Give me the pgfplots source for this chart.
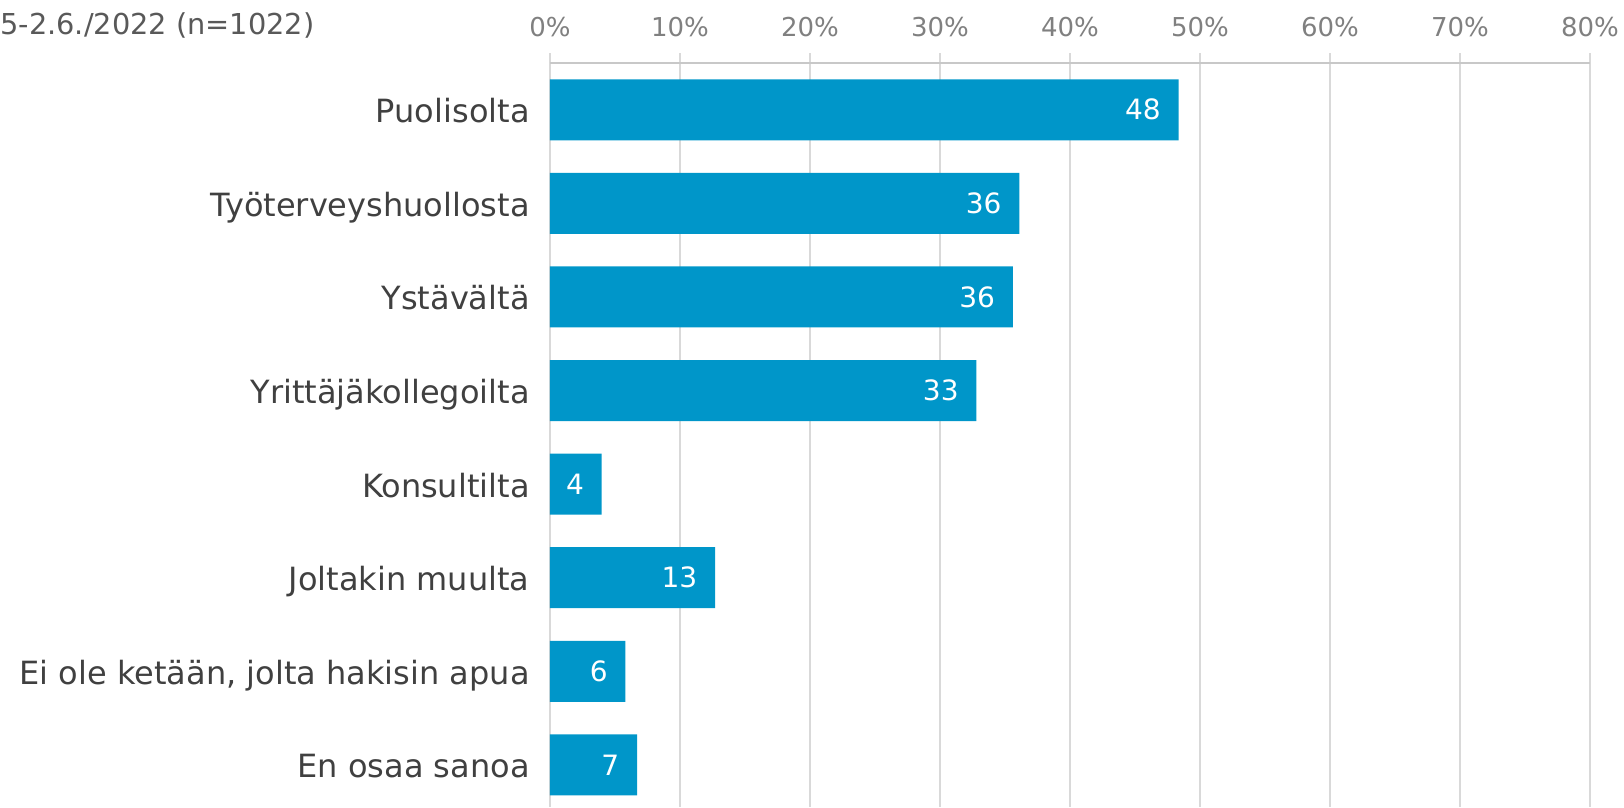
\documentclass[border=0pt]{standalone}
\usepackage{fontspec}
\setmainfont{DejaVu Sans}
\usepackage{pgfplots}
\pgfplotsset{compat=1.18}
\usepackage{pgfplotstable}
\definecolor{barblue}{RGB}{0,150,201}
\definecolor{gridgray}{RGB}{217,217,217}
\definecolor{axisgray}{RGB}{200,200,200}
\definecolor{tickgray}{RGB}{128,128,128}
\definecolor{labelgray}{RGB}{64,64,64}
\definecolor{titlegray}{RGB}{89,89,89}

\pgfplotstableread{
pos value label
0 48.35 48
1 36.1 36
2 35.6 36
3 32.8 33
4 3.98 4
5 12.7 13
6 5.8 6
7 6.7 7
}\datatable

\begin{document}
\begin{tikzpicture}
\begin{axis}[
 scale only axis, width=520pt, height=372pt,
 xmin=0, xmax=80, ymin=-0.5, ymax=7.45, y dir=reverse,
 xbar, bar width=30.5pt, bar shift=0pt,
 axis x line*=top, axis y line*=left,
 y axis line style={draw=none},
 x axis line style={draw=axisgray, line width=0.9pt},
 xmajorgrids, grid style={draw=gridgray, line width=0.75pt},
 xtick={0,10,...,80},
 xticklabels={0\%,10\%,20\%,30\%,40\%,50\%,60\%,70\%,80\%},
 xtick align=outside, major tick length=5pt,
 xtick style={draw=gridgray, line width=0.75pt},
 ytick={0,...,7},
 yticklabels={Puolisolta, Työterveyshuollosta, Ystävältä, Yrittäjäkollegoilta, Konsultilta, Joltakin muulta, {Ei ole ketään, jolta hakisin apua}, En osaa sanoa},
 ytick style={draw=none},
 yticklabel style={font=\fontsize{16}{19}\selectfont, text=labelgray, inner sep=0pt, anchor=base east, xshift=-5pt, yshift=-6.5pt},
 xticklabel style={font=\fontsize{13}{16}\selectfont, text=tickgray, inner sep=0pt, anchor=base, yshift=8.5pt},
 point meta=explicit symbolic,
 clip=false,
]
\addplot[fill=barblue, draw=none, nodes near coords,
  nodes near coords style={anchor=east, text=white, font=\fontsize{14}{17}\selectfont, inner sep=0pt, xshift=-8.7pt}]
  table[x=value, y=pos, meta=label]{\datatable};
\end{axis}
\node[anchor=base west, inner sep=0pt, font=\fontsize{14.4}{17}\selectfont, text=titlegray] at ([xshift=-275pt, yshift=14.3pt]current axis.north west) {5-2.6./2022 (n=1022)};
\path ([xshift=-275pt]current axis.south west) rectangle ([xshift=17pt,yshift=31.5pt]current axis.north east);
\end{tikzpicture}
\end{document}
